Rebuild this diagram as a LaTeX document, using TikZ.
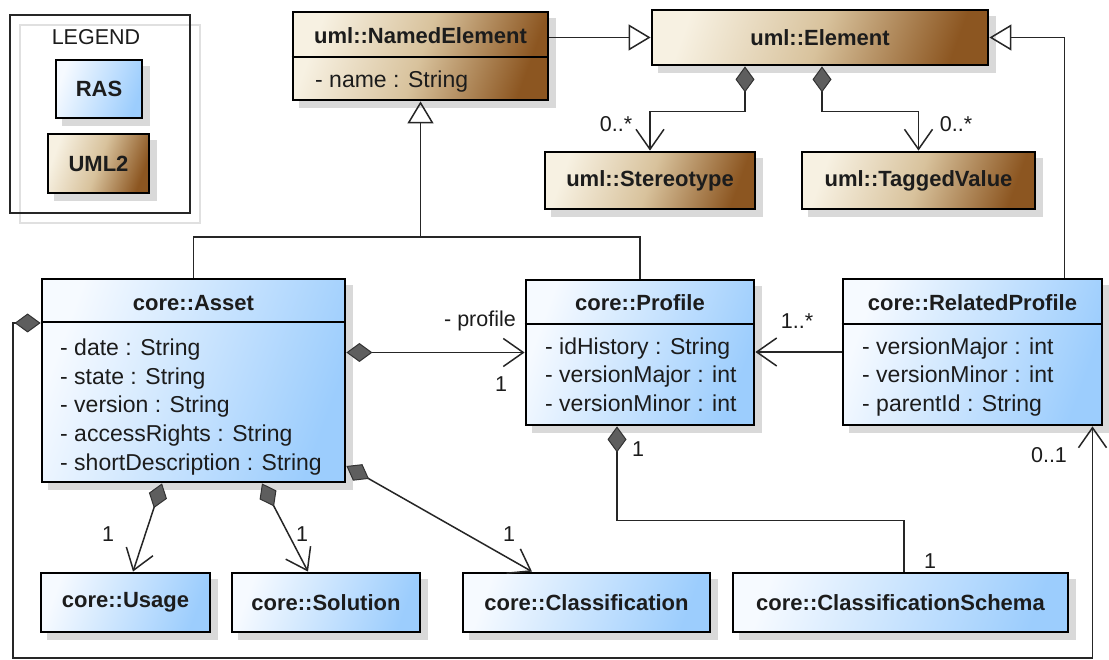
\documentclass[tikz,border=0pt]{standalone}
\usepackage{fontspec}
\setmainfont{Liberation Sans}
\usetikzlibrary{arrows.meta}
\definecolor{rasA}{HTML}{F6FAFF}
\definecolor{rasB}{HTML}{9CCDFD}
\definecolor{umlA}{HTML}{F7F1E2}
\definecolor{umlM}{HTML}{D8C29C}
\definecolor{umlB}{HTML}{8C5621}
\definecolor{shadowc}{HTML}{D9D9D9}
\definecolor{diamc}{HTML}{5E5E5E}
\definecolor{ink}{HTML}{1C1C1C}
\begin{document}
\begin{tikzpicture}[x=1pt,y=-1pt,
  box/.style={draw=black, line width=2.8pt, inner sep=0pt, text=ink,
    preaction={fill=shadowc, draw=shadowc, line width=2pt, transform canvas={shift={(7pt,-7pt)}}}},
  ras/.style={box, top color=rasA, bottom color=rasB, shading angle=70},
  uml/.style={box, top color=umlA, bottom color=umlB, middle color=umlM, shading angle=70},
  hdrfont/.style={font=\bfseries\fontsize{22}{25}\selectfont},
  hdr/.style={hdrfont, inner sep=0pt, anchor=base, text=ink},
  attr/.style={font=\fontsize{23}{28}\selectfont, inner sep=0pt, anchor=base west, text=ink},
  lbl/.style={font=\fontsize{21.5}{24}\selectfont, inner sep=0pt, text=ink},
  sepline/.style={line width=1.8pt, draw=black},
  conn/.style={line width=1.5pt, draw=black!85},
  gen/.style={conn, -{Triangle[open, length=22pt, width=26pt, line width=1.5pt]}},
  assoc/.style={conn, -{Straight Barb[length=20pt, width=28pt, line width=1.5pt]}},
  comp/.style={conn, {Diamond[length=26pt, width=19pt, fill=diamc, color=black!80, line width=1pt]}-{Straight Barb[length=20pt, width=28pt, line width=1.5pt]}},
  compend/.style={conn, {Diamond[length=26pt, width=19pt, fill=diamc, color=black!80, line width=1pt]}-}
]
\fill[white] (0,0) rectangle (1109,660);
\useasboundingbox (0,0) rectangle (1109,660);

% coordinates for compartment separators and routing
\coordinate (ny) at (0,57);
\coordinate (ay) at (0,322);
\coordinate (py) at (0,324);
\coordinate (jy) at (0,237);
\coordinate (bl) at (13,658);

% legend
\draw[black!12, line width=1.5pt] (20,25) rectangle (200,223);
\node[draw=black!85, line width=1.8pt, minimum width=180pt, minimum height=198pt, inner sep=0pt] (legend) at (100,114) {};
\node[lbl] (legendT) at (96,37) {LEGEND};
\node[ras, hdrfont, minimum width=86pt, minimum height=58pt] (rasbox) at (99,89) {RAS};
\node[uml, hdrfont, minimum width=101pt, minimum height=59pt] (umlbox) at (98.5,163.5) {UML2};

% UML2 classes
\node[uml, minimum width=255pt, minimum height=88pt] (named) at (420.5,56) {};
\draw[sepline] (named.west |- ny) -- (named.east |- ny);
\node[hdr] (namedH) at (420.5,44) {uml::NamedElement};
\node[attr] (namedA1) at (315,88) {- name : String};

\node[uml, hdrfont, minimum width=336pt, minimum height=55pt] (element) at (820,37.5) {uml::Element};
\node[uml, hdrfont, minimum width=210pt, minimum height=57pt] (stereo) at (650,180.5) {uml::Stereotype};
\node[uml, hdrfont, minimum width=233pt, minimum height=57pt] (tagged) at (918.5,180.5) {uml::TaggedValue};

% RAS classes
\node[ras, minimum width=303pt, minimum height=203pt] (asset) at (193.5,380.5) {};
\draw[sepline] (asset.west |- ay) -- (asset.east |- ay);
\node[hdr] (assetH) at (193.5,311) {core::Asset};
\node[attr] (assetA1) at (60,356) {- date : String};
\node[attr] (assetA2) at (60,384.5) {- state : String};
\node[attr] (assetA3) at (60,413) {- version : String};
\node[attr] (assetA4) at (60,441.5) {- accessRights : String};
\node[attr] (assetA5) at (60,470) {- shortDescription : String};

\node[ras, minimum width=228pt, minimum height=145pt] (profile) at (640,352.5) {};
\draw[sepline] (profile.west |- py) -- (profile.east |- py);
\node[hdr] (profileH) at (640,311) {core::Profile};
\node[attr] (profileA1) at (545,355) {- idHistory : String};
\node[attr] (profileA2) at (545,383) {- versionMajor : int};
\node[attr] (profileA3) at (545,411) {- versionMinor : int};

\node[ras, minimum width=259pt, minimum height=146pt] (relprof) at (972.5,352) {};
\draw[sepline] (relprof.west |- py) -- (relprof.east |- py);
\node[hdr] (relprofH) at (972.5,311) {core::RelatedProfile};
\node[attr] (relprofA1) at (862,355) {- versionMajor : int};
\node[attr] (relprofA2) at (862,383) {- versionMinor : int};
\node[attr] (relprofA3) at (862,411) {- parentId : String};

\node[ras, hdrfont, minimum width=169pt, minimum height=59pt] (usage) at (125.5,602.5) {core::Usage};
\node[ras, hdrfont, minimum width=188pt, minimum height=59pt] (solution) at (326,602.5) {core::Solution};
\node[ras, hdrfont, minimum width=247pt, minimum height=59pt] (classif) at (586.5,602.5) {core::Classification};
\node[ras, hdrfont, minimum width=335pt, minimum height=59pt] (schema) at (900.5,602.5) {core::ClassificationSchema};

% generalizations
\draw[gen] (named.east |- element.west) -- (element.west);
\draw[gen] ([xshift=-39pt]relprof.north east) |- (element.east);
\coordinate (jn) at (named.south |- jy);
\draw[conn] (asset.north) |- (jn);
\draw[conn] (profile.north) |- (jn);
\draw[gen] (jn) -- (named.south);

% compositions from uml::Element
\draw[comp] ([xshift=-75pt]element.south) -- ++(0,45) -| (stereo.north);
\draw[comp] ([xshift=2pt]element.south) -- ++(0,45) -| (tagged.north);
\node[lbl] (l1) at (616,124) {0..*};
\node[lbl] (l2) at (956,124) {0..*};

% associations of core::Asset
\draw[comp] (asset.east |- profile.west) -- (profile.west);
\node[lbl] (l3) at (480,321) {- profile};
\node[lbl] (l4) at (501,384) {1};
\draw[assoc] (relprof.west) -- (profile.east |- relprof.west);
\node[lbl] (l5) at (797,321) {1..*};

\draw[comp] ([xshift=-31.5pt]asset.south) -- ([xshift=7.5pt]usage.north);
\node[lbl] (l6) at (108,534) {1};
\draw[comp] ([xshift=68.5pt]asset.south) -- ([xshift=-18pt]solution.north);
\node[lbl] (l7) at (302,534) {1};
\draw[comp] ([yshift=-85.5pt]asset.east) -- ([xshift=-54.5pt]classif.north);
\node[lbl] (l8) at (509,534) {1};

\draw[compend] ([xshift=-23pt]profile.south) -- ++(0,94) -| ([xshift=3.5pt]schema.north);
\node[lbl] (l9) at (638,449) {1};
\node[lbl] (l10) at (930,561) {1};

\draw[comp] ([yshift=57.5pt]asset.west) -| (bl) -| ([xshift=120pt]relprof.south);
\node[lbl] (l11) at (1049,455) {0..1};
\end{tikzpicture}
\end{document}
